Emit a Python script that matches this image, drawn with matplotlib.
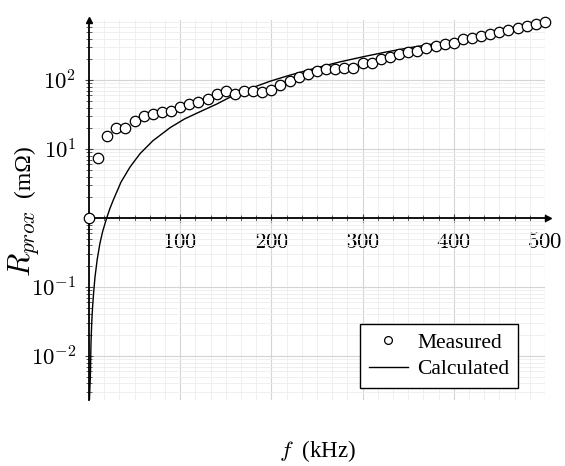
import numpy as np
import matplotlib
matplotlib.use("Agg")
from matplotlib import pyplot as plt
from matplotlib.ticker import FixedLocator, NullFormatter

plt.rcParams['font.family'] = ['Liberation Serif', 'DejaVu Serif']
plt.rcParams['mathtext.fontset'] = 'cm'

# measured proximity resistance (mOhm) vs frequency (kHz)
f_meas = [0, 10, 20, 30, 40, 50, 60, 70, 80, 90, 100, 110, 120, 130, 140, 150,
          160, 170, 180, 190, 200, 210, 220, 230, 240, 250, 260, 270, 280, 290,
          300, 310, 320, 330, 340, 350, 360, 370, 380, 390, 400, 410, 420, 430,
          440, 450, 460, 470, 480, 490, 500]
r_meas = [1.0, 7.5, 15.4, 20, 20, 25.5, 30, 31.8, 34.7, 35.9, 40.5, 45, 48.5, 53,
          64, 69, 64, 69, 69, 67, 71.6, 84.7, 97.7, 112, 125, 134, 143, 144, 148,
          152, 175, 180, 206, 218, 236, 257, 266, 294, 311, 332, 351, 393, 403,
          445, 475, 500, 531, 573, 612, 646, 700]

# calculated curve
f_calc = [0.5, 1.0, 1.5, 2.2, 3.0, 3.7, 5.0, 6.6, 9.0, 12, 15, 19.4, 23, 26.6, 35,
          45, 56, 70, 89, 105, 122, 140, 155, 177, 199, 220, 250, 275, 300, 325,
          350, 375, 400, 425, 450, 475, 500]
r_calc = [0.0023, 0.0035, 0.005, 0.0155, 0.030, 0.046, 0.080, 0.14, 0.25, 0.43,
          0.64, 1.0, 1.38, 1.82, 3.3, 5.5, 8.6, 13.2, 20.5, 27.5, 35, 45, 57, 76,
          97, 118, 152, 184, 218, 255, 294, 332, 371, 432, 500, 585, 680]

fig = plt.figure(figsize=(5.65, 4.66), dpi=100)
ax = fig.add_axes([0.1575, 0.1416, 0.807, 0.815])
ax.set_yscale('log')
ax.set_xlim(0, 500)
ax.set_ylim(10 ** -2.64, 10 ** 2.87)

# grid
ax.xaxis.set_major_locator(FixedLocator([100, 200, 300, 400, 500]))
ax.xaxis.set_minor_locator(FixedLocator([i * 100 / 6 for i in range(1, 31) if i % 6]))
ax.yaxis.set_major_locator(FixedLocator([1e-2, 1e-1, 1e1, 1e2]))
ymin_ticks = []
for d in range(-3, 3):
    for k in range(1, 10):
        v = k * 10.0 ** d
        if k > 1 or d == 0:
            ymin_ticks.append(v)
ax.yaxis.set_minor_locator(FixedLocator(ymin_ticks))
ax.yaxis.set_minor_formatter(NullFormatter())
ax.grid(True, which='major', color='#d4d4d4', lw=0.8)
ax.grid(True, which='minor', color='#ededed', lw=0.6)
ax.set_axisbelow(True)

# axis lines through origin
for s in ['top', 'right']:
    ax.spines[s].set_visible(False)
ax.spines['left'].set_position(('data', 0))
ax.spines['bottom'].set_position(('data', 1))
ax.spines['left'].set_linewidth(1.3)
ax.spines['bottom'].set_linewidth(1.3)
ax.plot(1.007, 1, '>', color='black', ms=5, transform=ax.get_yaxis_transform(), clip_on=False)
ax.plot(0, 1.0, '^', color='black', ms=5, transform=ax.get_xaxis_transform(), clip_on=False)

ax.set_xticklabels(['$100$', '$200$', '$300$', '$400$', '$500$'])
ax.set_yticklabels(['$10^{-2}$', '$10^{-1}$', '$10^{1}$', '$10^{2}$'])
ax.tick_params(axis='both', which='both', direction='inout', colors='#444444',
               labelcolor='black', labelsize=16.5)
ax.tick_params(axis='both', which='major', length=6, width=0.8)
ax.tick_params(axis='both', which='minor', length=4, width=0.6)
ax.tick_params(axis='x', pad=7)
ax.tick_params(axis='y', pad=6)

ax.plot(f_meas, r_meas, 'o', mfc='white', mec='black', mew=0.9, ms=7.5,
        clip_on=False, zorder=4, label='Measured')
ax.plot(f_calc, r_calc, '-', color='black', lw=1.0, zorder=3, label='Calculated')

leg = ax.legend(loc='lower right', bbox_to_anchor=(0.941, 0.032), fontsize=15.5,
                fancybox=False, framealpha=1, edgecolor='black', markerscale=0.75,
                borderpad=0.4, handlelength=1.8, handletextpad=0.45, labelspacing=0.3,
                borderaxespad=0)
leg.get_frame().set_linewidth(1.0)

fig.text(317 / 565, 1 - 451 / 466, '$f$  (kHz)', ha='center', va='center', fontsize=16.5)
fig.text(24 / 565, 1 - 171 / 466, '(m\u03a9)', ha='center', va='center',
         rotation=90, fontsize=17)
fig.text(24 / 565, 1 - 243 / 466, '$R_{prox}$', ha='center', va='center',
         rotation=90, fontsize=22)

fig.savefig('out.png', dpi=100)
